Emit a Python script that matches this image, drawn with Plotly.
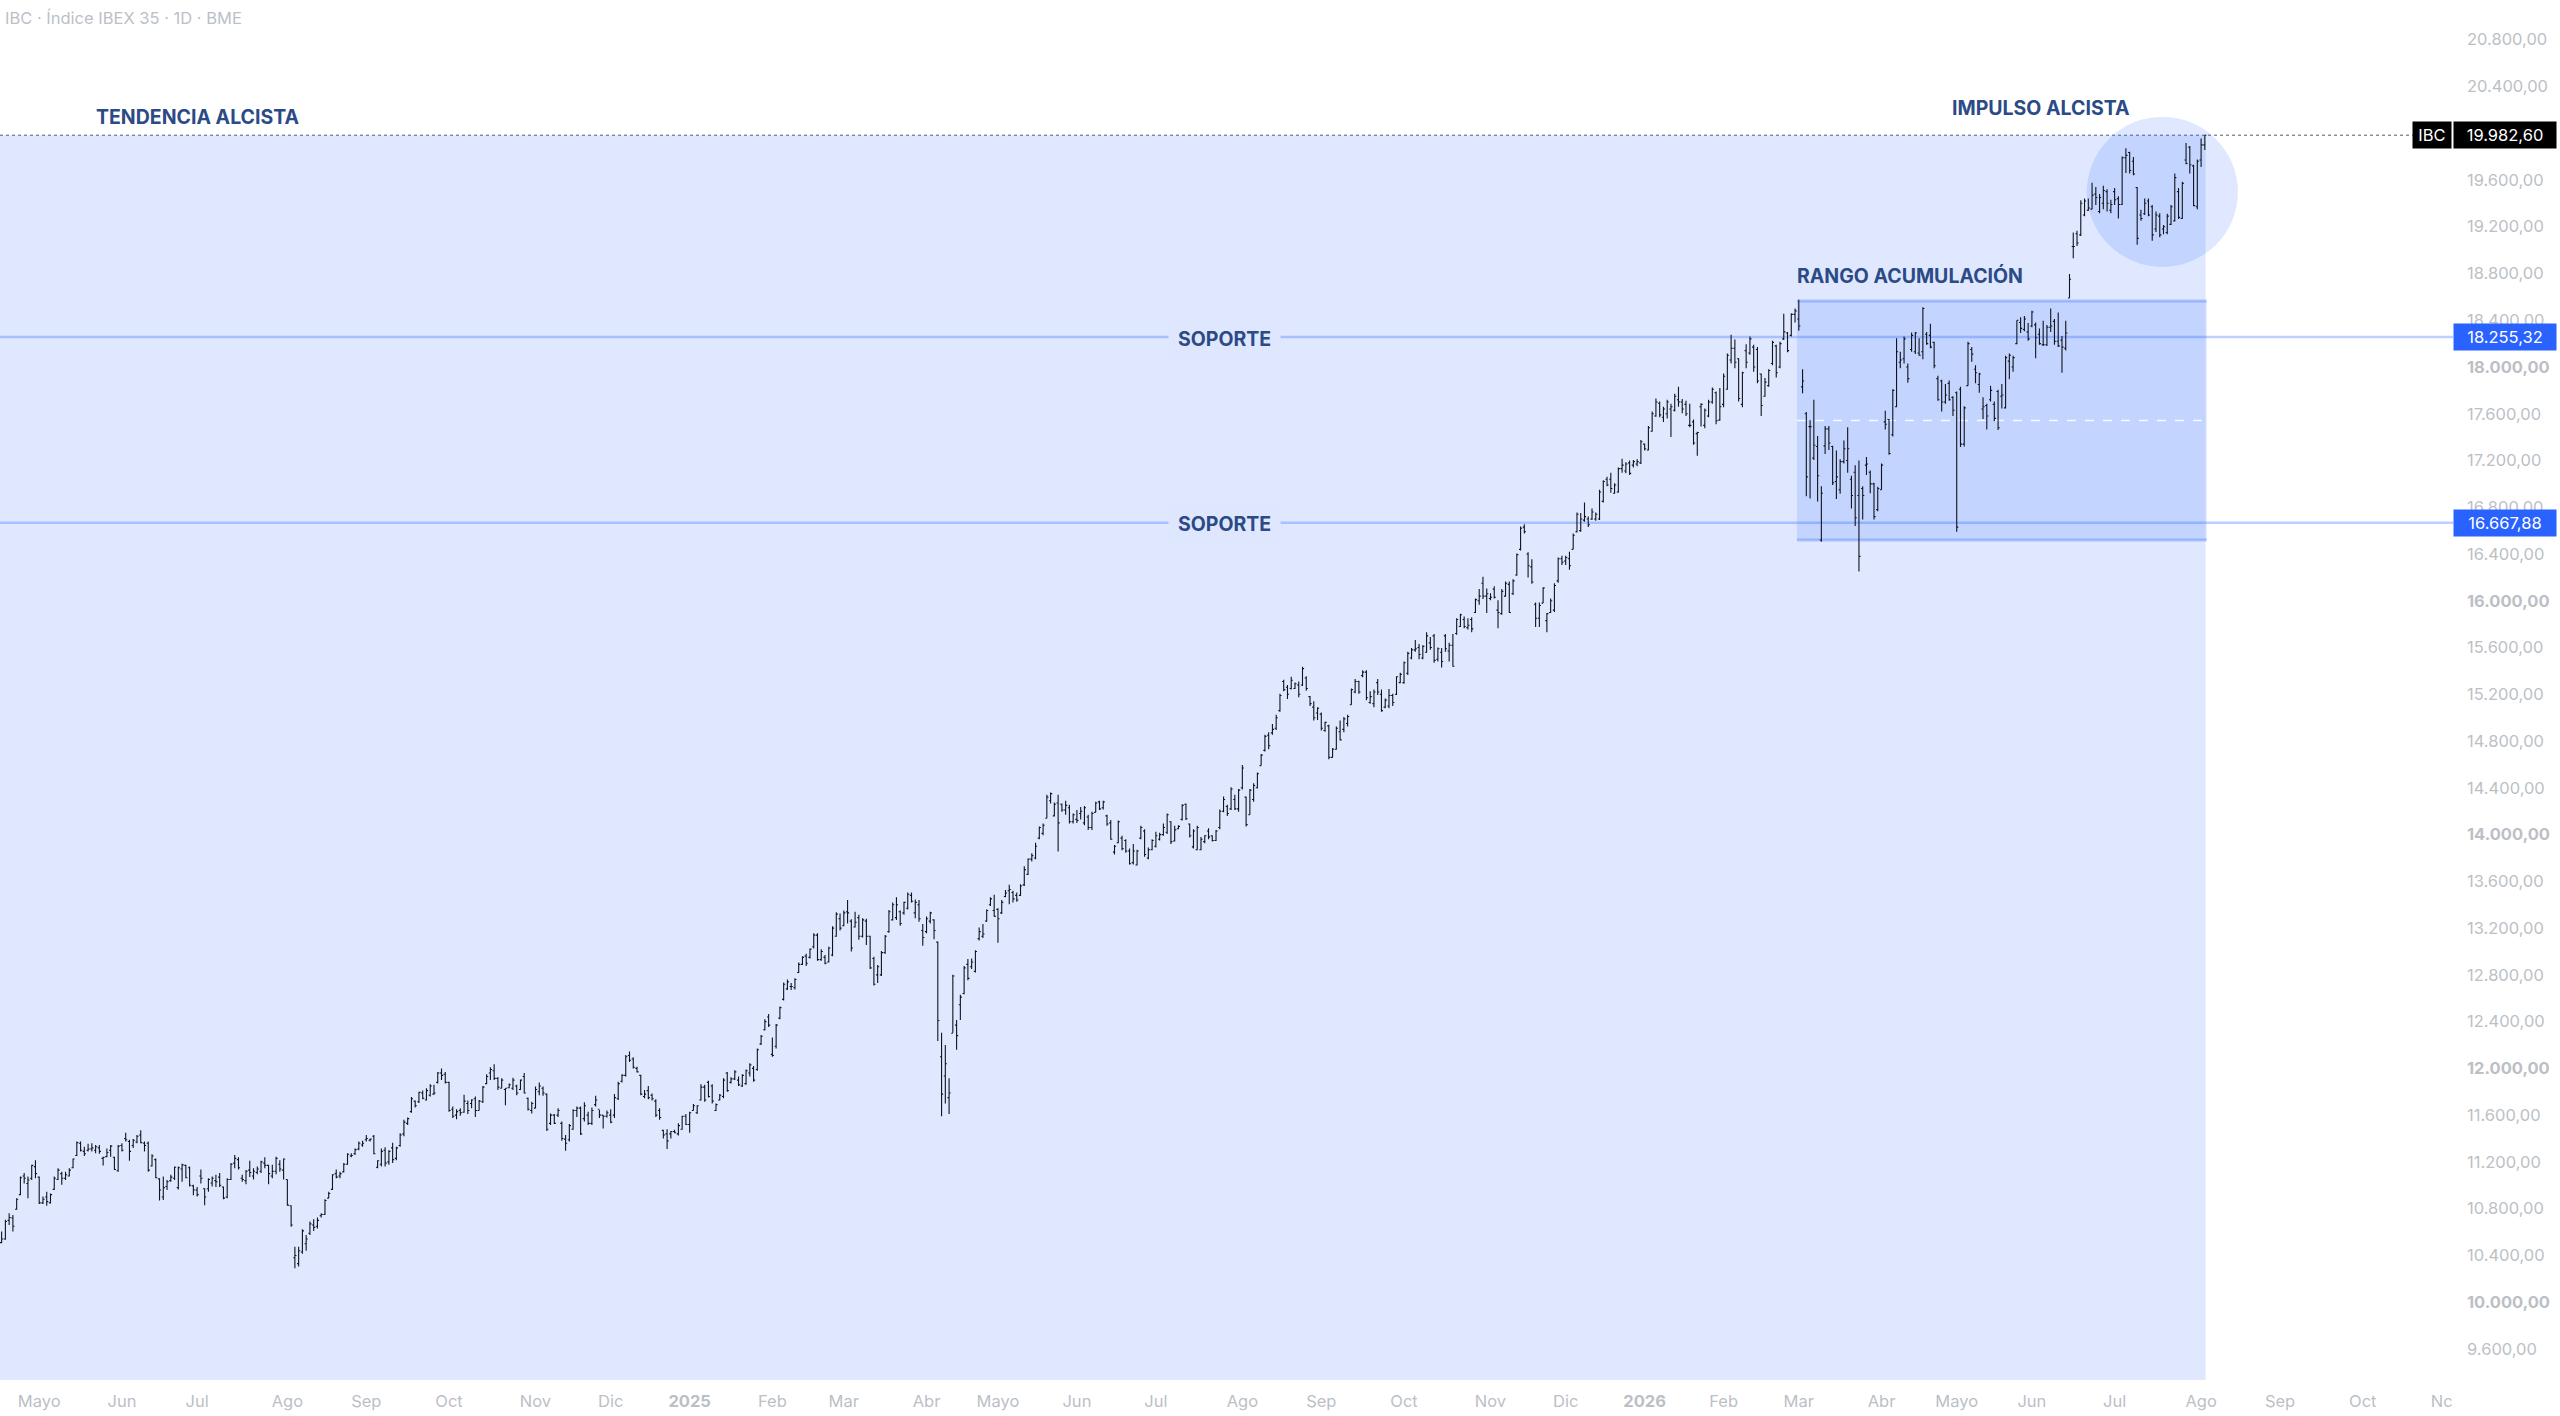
import plotly.graph_objects as go

# ---------- price data (one trading day per bar) ----------
highs = [
10605,10705,10760,10745,10890,11075,11105,11075,11175,11215,
11075,10905,10945,10930,11075,11145,11115,11115,11145,11230,
11375,11375,11330,11355,11360,11345,11345,11245,11315,11345,
11245,11345,11360,11450,11390,11395,11430,11470,11375,11375,
11265,11230,11060,11075,11045,11090,11160,11160,11185,11175,
11160,11005,10985,11135,10975,11060,11075,11090,11105,10990,
11060,11190,11260,11240,11090,11130,11210,11145,11160,11210,
11240,11175,11175,11245,11215,11230,11050,10830,10475,10475,
10625,10575,10690,10710,10725,10760,10880,10945,11095,11135,
11115,11190,11275,11275,11315,11375,11380,11430,11400,11430,
11215,11315,11325,11300,11365,11330,11445,11560,11580,
11755,11725,11800,11810,11830,11865,11860,11970,12000,11970,
11885,11675,11650,11660,11775,11725,11735,11760,11730,
11850,11950,12010,12035,11925,11915,11830,11870,11920,11860,
11905,11960,11750,11715,11845,11880,11845,11785,11615,11610,
11660,11545,11430,11525,11650,11675,11675,11710,11630,11665,
11765,11645,11600,11640,11650,11780,11885,11950,12115,12145,
12095,12015,11945,11815,11850,11785,11735,11660,11475,11480,
11465,11475,11530,11595,11610,11630,11695,11685,11865,11860,
11895,11865,11700,11780,11915,11970,11925,11985,11930,11950,
11990,12045,12020,12170,12285,12420,12465,12265,12380,12530,
12735,
12760,12730,12770,12905,12960,12980,13025,13155,13155,13020,
12970,13040,13215,13335,13325,13350,13440,13275,13340,13315,
13285,13280,13135,12955,12885,13005,13140,13355,13420,13465,
13350,13425,13505,13505,13445,13440,13235,13300,13340,13275,
13085,12305,12200,11915,12800,12415,12630,12875,12935,12940,
13010,13205,13235,13360,13465,13485,13370,13440,13525,13570,
13520,13505,13575,13730,13795,13840,13930,14070,14095,14340,
14360,14275,14340,14265,14290,14255,14180,14210,14235,14245,
14170,14195,14280,14290,14290,14170,14125,13910,14120,13990,
13960,13880,13920,13870,14075,14045,13890,13960,14025,14015,
14095,14180,14115,14075,14080,14260,14265,14095,14045,14075,
13980,13995,14055,13995,14040,14215,14325,14255,14405,14340,14390,
14595,
14325,14390,14440,14530,14690,14855,14875,14945,15025,15205,
15325,15280,15350,15300,15310,15435,15355,15185,15140,15090,
15045,14965,14940,14740,14925,14975,15005,15025,15250,15330,
15315,15405,15405,15225,15240,15330,15240,15165,15245,15205,
15355,15385,15480,15565,15595,15665,15630,15620,15730,15690,
15715,15600,15595,15715,15640,15715,15850,15890,15865,15850,
15860,16020,16100,16205,16105,16065,16125,16005,16100,16165,
16165,16185,16405,
16635,16655,16415,16355,15985,15985,16115,15895,16020,16150,
16370,16385,16385,16420,16575,16755,16750,16840,16720,16790,
16755,16950,17030,17060,17095,17005,17140,17215,17185,17200,
17205,17210,17375,17345,17495,17620,17730,17705,17660,17720,
17685,17770,17830,17725,17710,17685,17550,17445,17690,17645,
17720,17825,17790,17820,17945,18115,18275,18235,18075,17960,
18195,18260,18190,18170,17945,17905,17980,18225,18190,18215,
18455,18300,18460,18500,18575,
17980,17615,17545,17720,17410,16980,17495,17495,17325,17285,
17210,17370,17485,17070,17160,17200,16980,17230,17115,17010,
16975,17175,17625,17555,17810,18245,18130,18260,18030,18295,
18300,18245,18510,18300,18370,18215,17925,17890,17855,17885,
17750,17790,17830,17665,18215,18170,18015,17950,17740,17685,
17840,17705,17805,17855,18095,18115,18095,18400,18425,18435,
18375,18480,18380,18330,18395,18360,18500,18410,18465,18265,18395,
18795,
19150,19165,19425,19440,19440,19575,19540,19480,19550,19520,
19430,19530,19460,19800,19870,19840,19795,19540,19345,19440,
19440,19385,19330,19315,19215,19310,19385,19655,19530,19585,
19915,19890,19730,19775,19955,19982.6,
]
lows = [
10505,10535,10660,10605,10790,10915,11015,10890,11045,11060,
10840,10840,10825,10845,10960,11045,11005,11045,11075,11145,
11250,11290,11250,11290,11290,11275,11270,11170,11240,11245,
11130,11115,11290,11375,11210,11320,11360,11360,11290,11115,
11160,11060,10870,10875,10960,11030,11045,10965,11030,11060,
10990,10915,10905,11015,10830,10945,10990,10985,10985,10880,
10890,11045,11145,11135,11030,11010,11070,11050,11095,11105,
11145,11010,11060,11095,11115,11050,10825,10645,10290,10305,
10415,10440,10575,10610,10630,10725,10745,10890,10960,11060,
11060,11110,11175,11240,11260,11300,11330,11375,11375,11265,
11145,11160,11160,11175,11190,11215,11330,11420,11515,
11620,11665,11705,11735,11725,11760,11775,11870,11900,11870,
11630,11575,11565,11595,11620,11610,11660,11585,11640,
11705,11865,11900,11900,11815,11830,11685,11830,11815,11770,
11815,11785,11640,11615,11660,11770,11765,11465,11515,11525,
11585,11380,11295,11375,11475,11585,11430,11545,11515,11515,
11675,11575,11485,11580,11530,11575,11730,11880,11930,12055,
12000,11965,11770,11745,11735,11725,11585,11560,11400,11310,
11400,11445,11425,11475,11515,11450,11640,11610,11725,11715,
11750,11700,11635,11725,11745,11800,11870,11900,11850,11840,
11860,11930,11885,11980,12200,12325,12355,12100,12170,12420,
12580,
12670,12670,12675,12815,12885,12875,12940,13025,12920,12920,
12890,12905,12960,13125,13180,13215,13240,13000,13205,13100,
13120,13055,12850,12710,12730,12790,12980,13160,13265,13270,
13220,13315,13360,13420,13285,13255,13050,13155,13240,13105,
12235,11590,11700,11610,12305,12160,12415,12635,12755,12850,
12820,13095,13115,13255,13390,13300,13075,13320,13465,13405,
13420,13425,13475,13560,13655,13770,13790,13960,13995,14140,
14265,14155,13855,14195,14170,14095,14095,14100,14130,14080,
14040,14040,14190,14210,14215,14075,13955,13830,13925,13865,
13845,13745,13745,13735,13960,13810,13790,13865,13890,13950,
13990,14005,13920,13940,14045,14120,14125,13975,13880,13865,
13865,13925,13960,13940,13945,14045,14190,14160,14210,14210,14195,
14385,
14070,14170,14280,14395,14590,14710,14730,14855,14895,15050,
15225,15160,15240,15245,15175,15270,15230,15100,14975,14980,
14890,14880,14645,14660,14725,14805,14875,14925,15110,15210,
15205,15345,15150,15120,15090,15195,15050,15080,15080,15100,
15195,15295,15290,15365,15500,15565,15500,15500,15555,15580,
15470,15480,15430,15565,15480,15435,15710,15775,15765,15755,
15730,15895,15965,16015,15895,16005,16020,15765,15880,16035,
15895,16050,16215,
16430,16575,16200,16145,15775,15775,15980,15730,15895,15905,
16155,16305,16305,16265,16440,16585,16590,16675,16630,16690,
16685,16690,16840,16980,16925,16915,16925,17095,17090,17075,
17140,17150,17170,17285,17285,17445,17575,17570,17530,17560,
17400,17620,17660,17605,17580,17485,17335,17240,17490,17475,
17570,17685,17510,17540,17655,17805,18030,17990,17705,17655,
17990,18105,17960,17860,17580,17745,17830,18015,17910,17990,
18230,18125,18260,18380,18310,
17775,16895,16875,17205,16850,16505,17255,17290,16990,16870,
16915,17175,17095,16790,16640,16250,16695,17075,16920,16695,
16765,16950,17465,17250,17405,17655,17990,18030,17865,18130,
18110,18095,18065,18190,18160,17990,17710,17620,17685,17710,
17580,16590,17315,17320,17840,18045,17860,17780,17555,17465,
17705,17535,17460,17645,17645,17895,17960,18195,18290,18305,
18225,18340,18075,18190,18180,18180,18300,18190,18170,17950,18140,
18590,
18930,19035,19120,19290,19335,19350,19385,19315,19350,19330,
19315,19385,19270,19385,19660,19655,19640,19045,19250,19300,
19290,19080,19155,19110,19135,19135,19215,19245,19265,19265,
19735,19655,19375,19350,19710,19855,
]
opens = [
10510,10540,10700,10720,10795,10920,11080,11015,11060,11160,
11070,10850,10900,10850,10965,11050,11100,11060,11080,11150,
11255,11360,11290,11300,11310,11300,11320,11230,11245,11300,
11240,11125,11340,11400,11375,11340,11370,11430,11360,11360,
11165,11220,11055,10900,10990,11040,11060,10980,11140,11170,
11150,10995,10960,11080,10970,10970,11020,11040,11070,10985,
10900,11050,11190,11220,11060,11040,11130,11080,11110,11120,
11190,11170,11080,11120,11180,11130,11050,10825,10380,10330,
10430,10500,10590,10660,10650,10740,10750,10890,10965,11100,
11080,11115,11180,11250,11270,11310,11345,11390,11385,11420,
11155,11180,11300,11200,11320,11230,11340,11440,11530,
11630,11720,11715,11790,11730,11770,11780,11880,11960,11950,
11880,11650,11600,11640,11625,11700,11700,11740,11640,
11715,11870,11960,11980,11915,11830,11820,11835,11830,11850,
11820,11930,11745,11640,11660,11800,11830,11780,11530,11600,
11600,11530,11395,11390,11480,11640,11660,11570,11600,11530,
11690,11650,11600,11590,11600,11600,11740,11890,11940,12110,
12080,12000,11940,11760,11810,11770,11720,11640,11470,11440,
11440,11460,11440,11480,11590,11520,11640,11620,11730,11840,
11880,11850,11640,11730,11760,11960,11880,11910,11900,11850,
11870,11960,12000,11990,12210,12330,12440,12120,12190,12430,
12590,
12680,12700,12690,12820,12890,12960,12950,13040,13140,12930,
12950,12910,12970,13130,13280,13220,13340,13260,13210,13290,
13130,13260,13130,12940,12800,12800,12990,13170,13270,13290,
13340,13330,13370,13480,13330,13400,13180,13170,13260,13270,
13080,12100,11935,11750,12300,12370,12545,12640,12890,12870,
12830,13110,13130,13260,13400,13350,13360,13330,13470,13520,
13505,13480,13480,13570,13660,13790,13800,13970,14010,14140,
14290,14160,14270,14260,14210,14230,14110,14130,14180,14100,
14150,14060,14190,14280,14230,14160,14100,13850,13930,13970,
13950,13860,13760,13740,13970,14030,13800,13870,13900,13960,
14000,14020,14110,13945,14050,14130,14260,14090,13895,13870,
13870,13940,14030,13990,13950,14060,14200,14240,14220,14300,14220,
14400,
14320,14170,14300,14400,14590,14720,14850,14870,14910,15060,
15310,15260,15250,15250,15280,15280,15340,15180,15090,15040,
15030,14890,14930,14660,14730,14880,14900,14950,15110,15220,
15310,15360,15390,15130,15120,15300,15200,15090,15100,15190,
15200,15300,15300,15380,15510,15580,15600,15510,15560,15640,
15700,15500,15560,15700,15570,15620,15720,15780,15840,15770,
15840,15900,16000,16150,16040,16020,16100,15920,15890,16040,
16140,16060,16220,
16440,16630,16400,16290,15970,15850,15980,15830,15900,15920,
16170,16360,16340,16360,16440,16590,16600,16690,16700,16700,
16700,16700,16850,17040,17040,16920,16930,17130,17110,17180,
17160,17170,17180,17340,17290,17450,17580,17690,17570,17600,
17640,17630,17720,17700,17680,17500,17530,17430,17660,17500,
17580,17700,17780,17545,17680,17810,18060,18160,18070,17680,
18140,18120,18170,18150,17940,17750,17840,18030,18180,18000,
18240,18290,18270,18450,18410,
17830,17600,17490,17220,17320,16520,17325,17470,17320,17020,
16950,17190,17200,17040,17100,16900,16960,17160,17100,17000,
16780,16950,17530,17550,17420,17660,18040,18070,18000,18150,
18130,18120,18130,18280,18270,18210,17900,17880,17700,17860,
17740,17780,17810,17340,17840,18150,17980,17850,17640,17670,
17720,17680,17790,17750,17650,18050,18000,18200,18380,18320,
18300,18350,18360,18280,18190,18190,18340,18390,18220,18230,18160,
18590,
19030,19140,19130,19300,19340,19350,19480,19330,19400,19500,
19340,19500,19440,19390,19790,19835,19760,19535,19300,19310,
19420,19370,19180,19290,19180,19150,19220,19250,19500,19270,
19770,19880,19720,19370,19770,19900,
]
closes = [
10540,10690,10725,10650,10880,11065,11060,11045,11170,11100,
10850,10880,10860,10920,11060,11130,11060,11090,11130,11225,
11365,11300,11270,11310,11320,11330,11290,11240,11280,11335,
11135,11335,11300,11390,11290,11385,11420,11365,11340,11130,
11250,11065,10960,10980,11030,11070,11155,11150,11175,11065,
11000,10960,10920,11060,10900,11050,11060,11030,11000,10890,
11050,11180,11230,11150,11050,11120,11110,11120,11140,11200,
11170,11100,11120,11230,11140,11225,10830,10660,10400,10440,
10610,10540,10670,10640,10700,10750,10870,10930,11090,11070,
11100,11180,11265,11255,11305,11360,11360,11400,11395,11270,
11210,11290,11190,11290,11220,11320,11430,11540,11570,
11740,11680,11795,11745,11810,11850,11790,11960,11940,11880,
11640,11590,11630,11620,11720,11640,11730,11640,11720,
11840,11930,11990,11915,11840,11900,11830,11860,11900,11790,
11900,11790,11650,11700,11820,11850,11790,11480,11600,11530,
11640,11400,11360,11510,11640,11660,11440,11680,11530,11640,
11730,11600,11590,11620,11540,11750,11870,11940,12100,12070,
12010,11970,11780,11780,11750,11740,11600,11580,11430,11380,
11460,11450,11510,11590,11520,11620,11680,11680,11840,11730,
11760,11720,11690,11770,11900,11810,11910,11970,11860,11940,
11980,12030,11900,12160,12275,12400,12370,12110,12370,12520,
12720,
12740,12700,12760,12890,12950,12900,13020,13140,12930,13000,
12900,13030,13200,13320,13200,13330,13330,13030,13250,13130,
13270,13130,12860,12720,12870,12990,13130,13340,13400,13400,
13240,13420,13490,13430,13420,13280,13120,13280,13330,13180,
12410,11780,12040,11790,12790,12280,12610,12860,12770,12910,
13000,13170,13150,13350,13450,13300,13280,13420,13500,13530,
13450,13440,13560,13700,13790,13820,13900,14060,14080,14320,
14350,14260,14100,14210,14250,14110,14170,14120,14200,14230,
14060,14180,14270,14220,14280,14090,13960,13900,14110,13880,
13860,13750,13860,13860,14060,13830,13870,13950,13990,14000,
14060,14170,13940,14040,14070,14250,14135,13990,14030,14060,
13960,13990,13980,13950,14030,14200,14300,14180,14390,14220,14380,
14570,
14085,14380,14420,14520,14680,14840,14760,14900,15000,15190,
15240,15200,15320,15290,15200,15420,15250,15120,15000,15080,
14910,14960,14660,14730,14910,14810,14990,15010,15240,15310,
15220,15390,15170,15180,15220,15220,15060,15150,15190,15130,
15350,15370,15470,15550,15580,15590,15540,15610,15700,15600,
15490,15590,15480,15590,15620,15440,15840,15880,15780,15790,
15760,16010,16040,16040,16060,16030,16030,15900,16080,16150,
15900,16170,16395,
16620,16590,16300,16160,15850,15960,16110,15890,16000,16130,
16360,16330,16370,16300,16560,16740,16700,16720,16650,16760,
16740,16930,17020,16990,16960,16990,17130,17160,17170,17090,
17190,17190,17360,17300,17480,17600,17700,17590,17640,17700,
17660,17750,17700,17640,17600,17500,17350,17440,17680,17630,
17700,17810,17540,17660,17920,18100,18160,18040,17730,17950,
18040,18240,18000,17880,17670,17870,17970,18210,17950,18200,
18300,18140,18450,18480,18350,
17880,17060,17490,17330,17070,16920,17470,17350,17010,17060,
17190,17300,17300,16900,16710,16380,16900,17170,17000,16720,
16960,17160,17510,17260,17800,18130,18060,18240,17900,18270,
18290,18100,18500,18200,18170,18010,17720,17700,17760,17720,
17630,16630,17340,17650,18200,18110,17950,17940,17660,17580,
17800,17560,17480,17760,18080,18100,18080,18400,18330,18410,
18240,18470,18250,18200,18190,18340,18350,18220,18180,18170,18290,
18750,
19030,19060,19400,19420,19360,19470,19450,19450,19510,19400,
19390,19430,19390,19790,19810,19680,19650,19100,19270,19400,
19300,19130,19300,19130,19200,19290,19370,19620,19280,19570,
19740,19730,19380,19760,19900,19982.6,
]

# ---------- axes ----------
month_positions = [10,32,52,76,97,119,142,162,183,205,224,246,265,286,307,330,
                   351,373,396,416,437,458,478,500,520,540,562,585,606,628,649]
month_labels = ["Mayo","Jun","Jul","Ago","Sep","Oct","Nov","Dic",
                "<b>2025</b>","Feb","Mar","Abr","Mayo","Jun","Jul","Ago","Sep","Oct","Nov","Dic",
                "<b>2026</b>","Feb","Mar","Abr","Mayo","Jun","Jul","Ago","Sep","Oct","Nc"]
price_ticks = [9600,10000,10400,10800,11200,11600,12000,12400,12800,13200,13600,14000,14400,14800,
               15200,15600,16000,16400,16800,17200,17600,18000,18400,18800,19200,19600,20400,20800]
price_labels = ["9.600,00","<b>10.000,00</b>","10.400,00","10.800,00","11.200,00","11.600,00",
                "<b>12.000,00</b>","12.400,00","12.800,00","13.200,00","13.600,00","<b>14.000,00</b>",
                "14.400,00","14.800,00","15.200,00","15.600,00","<b>16.000,00</b>","16.400,00",
                "16.800,00","17.200,00","17.600,00","<b>18.000,00</b>","18.400,00","18.800,00",
                "19.200,00","19.600,00","20.400,00","20.800,00"]

# ---------- drawing levels ----------
last_price = 19982.60
support_high = 18255.32
support_low = 16667.88
range_top, range_mid, range_bottom = 18565, 17542, 16520
y_range = [9334.5, 21139]
x_range = [-0.43, 652]

FONT = "Inter"
NAVY = "#2b4a86"
GREY = "#bcbfc6"
FILL = "rgba(41,98,255,0.15)"
LINE = "rgba(41,98,255,0.30)"

bar_index = list(range(len(closes)))
fig = go.Figure(go.Ohlc(
    x=bar_index, open=opens, high=highs, low=lows, close=closes,
    increasing=dict(line=dict(color="#11141e", width=1.1)),
    decreasing=dict(line=dict(color="#11141e", width=1.1)),
    tickwidth=0.42, hoverinfo="skip", showlegend=False,
))

shapes = [
    dict(type="rect", layer="below", x0=-1, x1=586.2, y0=y_range[0], y1=last_price,
         fillcolor=FILL, line_width=0),
    dict(type="rect", layer="below", x0=477.5, x1=586.5, y0=range_bottom, y1=range_top,
         fillcolor=FILL, line_width=0),
    dict(type="line", layer="below", x0=477.5, x1=586.5, y0=range_top, y1=range_top,
         line=dict(color=LINE, width=3)),
    dict(type="line", layer="below", x0=477.5, x1=586.5, y0=range_bottom, y1=range_bottom,
         line=dict(color=LINE, width=3)),
    dict(type="line", layer="below", x0=477.5, x1=586.5, y0=range_mid, y1=range_mid,
         line=dict(color="rgba(255,255,255,0.85)", width=1.5, dash="dash")),
    dict(type="circle", layer="below", x0=554.6, x1=594.8, y0=18855, y1=20139,
         fillcolor=FILL, line_width=0),
    dict(type="line", layer="below", xref="paper", x0=0, x1=1, y0=support_high, y1=support_high,
         line=dict(color=LINE, width=2.5)),
    dict(type="line", layer="below", xref="paper", x0=0, x1=1, y0=support_low, y1=support_low,
         line=dict(color=LINE, width=2.5)),
    dict(type="line", layer="below", xref="paper", x0=0, x1=1, y0=last_price, y1=last_price,
         line=dict(color="#555a66", width=1, dash="dot")),
]

def note(text, x, y, anchor="left"):
    return dict(text=f"<b>{text}</b>", x=x, y=y, xanchor=anchor, yanchor="middle", showarrow=False,
                font=dict(family=FONT, size=19.5, color=NAVY))

def soporte(y):
    return dict(text="<b>SOPORTE</b>", x=325.2, y=y, yshift=-1.5, xanchor="center", yanchor="middle",
                showarrow=False, font=dict(family=FONT, size=19.5, color=NAVY),
                bgcolor="#dfe7ff", borderpad=9)

def price_tag(text, y, color):
    return dict(text=text, xref="paper", x=1, y=y, xanchor="left", yanchor="middle", showarrow=False,
                width=100, height=24, align="center", bgcolor=color,
                font=dict(family=FONT, size=16.5, color="#ffffff"))

annotations = [
    dict(text="IBC · Índice IBEX 35 · 1D · BME", xref="paper", x=0.0012, y=20985, xanchor="left",
         yanchor="middle", showarrow=False, font=dict(family=FONT, size=16.5, color=GREY)),
    note("TENDENCIA ALCISTA", 24.7, 20139),
    note("IMPULSO ALCISTA", 518.1, 20212),
    note("RANGO ACUMULACIÓN", 476.9, 18781),
    soporte(support_high),
    soporte(support_low),
    price_tag("19.982,60", last_price, "#000000"),
    dict(text="IBC", xref="paper", x=1, xshift=-1, y=last_price, xanchor="right", yanchor="middle",
         showarrow=False, width=36, height=24, align="center", bgcolor="#000000",
         font=dict(family=FONT, size=16.5, color="#ffffff")),
    price_tag("18.255,32", support_high, "#2962ff"),
    price_tag("16.667,88", support_low, "#2962ff"),
]

fig.update_layout(
    width=2560, height=1416,
    margin=dict(l=0, r=107, t=0, b=36),
    paper_bgcolor="#ffffff", plot_bgcolor="#ffffff",
    showlegend=False, shapes=shapes, annotations=annotations,
    font=dict(family=FONT, size=16.5, color=GREY),
    xaxis=dict(range=x_range, tickmode="array", tickvals=month_positions, ticktext=month_labels,
               showgrid=False, zeroline=False, showline=False, ticks="", rangeslider=dict(visible=False),
               tickfont=dict(family=FONT, size=16.5, color=GREY), ticklabelstandoff=9),
    yaxis=dict(range=y_range, side="right", tickmode="array", tickvals=price_ticks, ticktext=price_labels,
               showgrid=False, zeroline=False, showline=False, ticks="",
               tickfont=dict(family=FONT, size=16.5, color=GREY), ticklabelstandoff=13),
)

fig.write_html("out.html", config=dict(displayModeBar=False),
               post_script="document.body.style.margin='0';")
